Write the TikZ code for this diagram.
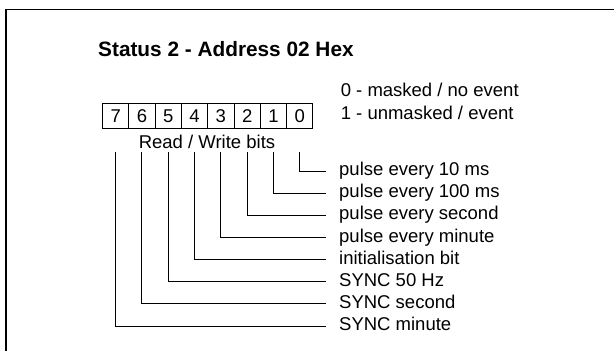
\documentclass[tikz,border=0pt]{standalone}
\usepackage{fontspec}
\setmainfont{Liberation Sans}
\begin{document}
\begin{tikzpicture}[x=1pt,y=-1pt,
  txt/.style={font=\fontsize{18.5}{22}\selectfont, inner sep=0pt},
  lbl/.style={txt, text height=13.8pt, text depth=4.6pt, anchor=west},
  bitbox/.style={draw, line width=1pt, minimum width=26.3pt, minimum height=25.6pt,
    inner sep=0pt, anchor=north west, font=\fontsize{18.5}{22}\selectfont},
  wire/.style={line width=1pt, line cap=rect},
  frame/.style={line width=1.6pt}]
\useasboundingbox (0,0) rectangle (614,351);
% frame (only top and left edges are visible)
\coordinate (fbl) at (6,360);
\coordinate (ftl) at (6,9.5);
\coordinate (ftr) at (620,9.5);
\draw[frame] (fbl) -- (ftl) -- (ftr);
% title
\node[anchor=base west, inner sep=0pt, font=\fontsize{20.8}{25}\selectfont\bfseries] (title) at (98,56.7) {Status 2 - Address 02 Hex};
% legend
\node[txt, anchor=base west] (leg0) at (340.6,96.7) {0 - masked / no event};
\node[txt, anchor=base west] (leg1) at (340.6,119) {1 - unmasked / event};
% bit boxes
\foreach \i in {0,...,7}{
  \node[bitbox] (b\i) at ({102+26.3*(7-\i)},102.7) {\i};
}
\node[txt, anchor=base] (rw) at (207,148.3) {Read / Write bits};
% labels
\foreach \i/\t in {0/pulse every 10 ms, 1/pulse every 100 ms, 2/pulse every second,
  3/pulse every minute, 4/initialisation bit, 5/SYNC 50 Hz, 6/SYNC second, 7/SYNC minute}{
  \node[lbl] (l\i) at (339,{171+22.15*\i}) {\t};
  \coordinate (s\i) at (b\i.center |- 0,152);
  \coordinate (e\i) at ([xshift=-14pt]l\i.west);
  \draw[wire] (s\i) |- (e\i);
}
\end{tikzpicture}
\end{document}
